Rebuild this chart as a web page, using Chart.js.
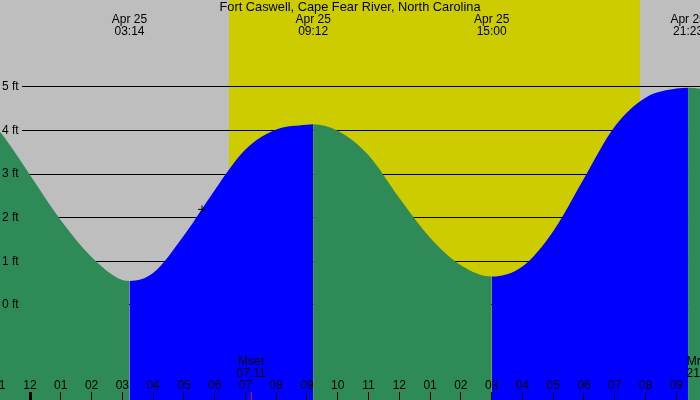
<!DOCTYPE html>
<html>
<head>
<meta charset="utf-8">
<script src="https://cdn.jsdelivr.net/npm/chart.js@4/dist/chart.umd.min.js"></script>
<style>
  html, body { margin: 0; padding: 0; background: #bebebe; }
  canvas { display: block; }
</style>
</head>
<body>
<canvas id="tide-chart" width="700" height="400"></canvas>
<script>
var title = 'Fort Caswell, Cape Fear River, North Carolina';

// predicted water level, hours from midnight Apr 25 / feet
var hours   = [-2, -1, 0, 1, 2, 3, 3.233, 4, 5, 6, 7, 8, 9, 9.2, 10, 11, 12, 13, 14, 15, 16, 17, 18, 19, 20, 21, 21.383, 22];
var heights = [4.70, 3.98, 2.97, 1.93, 1.09, 0.56, 0.54, 0.72, 1.58, 2.62, 3.55, 4.01, 4.12, 4.13, 3.98, 3.42, 2.44, 1.53, 0.90, 0.64, 0.87, 1.68, 2.89, 4.08, 4.74, 4.95, 4.97, 4.92];

// high / low tides
var extremeHours = [3.233, 9.2, 15.0, 21.383];
var extremeDates = ['Apr 25', 'Apr 25', 'Apr 25', 'Apr 25'];
var extremeTimes = ['03:14', '09:12', '15:00', '21:23'];

// sun and moon
var sunrise = 6.465;
var sunset = 19.82;
var moonHours = [7.183, 21.82];
var moonNames = ['Mset', 'Mrise'];
var moonTimes = ['07:11', '21:49'];

// current time marker
var nowHour = [5.59];
var nowHeight = [2.18];

// axes
var tickHours  = [-1, 0, 1, 2, 3, 4, 5, 6, 7, 8, 9, 10, 11, 12, 13, 14, 15, 16, 17, 18, 19, 20, 21];
var tickLabels = ['11', '12', '01', '02', '03', '04', '05', '06', '07', '08', '09', '10', '11', '12', '01', '02', '03', '04', '05', '06', '07', '08', '09'];
var feetLevels = [0, 1, 2, 3, 4, 5];

var FONT = '12px "Liberation Sans", Arial, sans-serif';
var TITLE_FONT = '12.8px "Liberation Sans", Arial, sans-serif';
var falling = '#2e8b57';
var rising = '#0000ff';

var tidePaint = {
  id: 'tidePaint',
  beforeDraw: function(chart) {
    var c = chart.ctx, x = chart.scales.x;
    c.save();
    c.fillStyle = '#bebebe';
    c.fillRect(0, 0, chart.width, chart.height);
    var x0 = x.getPixelForValue(sunrise), x1 = x.getPixelForValue(sunset);
    c.fillStyle = '#cccc00';
    c.fillRect(x0, 0, x1 - x0, chart.height);
    c.restore();
  },
  beforeDatasetsDraw: function(chart) {
    var c = chart.ctx, y = chart.scales.y;
    c.save();
    c.strokeStyle = '#000';
    c.lineWidth = 1;
    feetLevels.forEach(function(f) {
      var py = Math.round(y.getPixelForValue(f)) + 0.5;
      c.beginPath();
      c.moveTo(22, py);
      c.lineTo(chart.width, py);
      c.stroke();
    });
    c.restore();
  },
  afterDatasetsDraw: function(chart) {
    var c = chart.ctx, x = chart.scales.x, y = chart.scales.y;
    var h = chart.height;
    c.save();
    c.font = FONT;
    c.fillStyle = '#000';
    c.textBaseline = 'middle';

    // feet labels
    c.textAlign = 'left';
    feetLevels.forEach(function(f) {
      c.fillText(f + ' ft', 2, y.getPixelForValue(f) + 0.5);
    });

    // hour ticks
    c.textAlign = 'center';
    tickHours.forEach(function(t, i) {
      var px = x.getPixelForValue(t);
      c.fillText(tickLabels[i], px, 386);
      if (t % 24 === 0) {
        c.fillRect(Math.floor(px) - 1, 392, 3, h - 392);
      } else {
        c.fillRect(Math.floor(px), 392, 1, h - 392);
      }
    });

    // moon
    moonHours.forEach(function(t, i) {
      var px = x.getPixelForValue(t);
      c.fillStyle = '#ff0000';
      c.fillRect(Math.floor(px), 392, 1, h - 392);
      c.fillStyle = '#000';
      c.fillText(moonNames[i], px, 362);
      c.fillText(moonTimes[i], px, 373.5);
    });

    // high / low labels
    extremeHours.forEach(function(t, i) {
      var px = x.getPixelForValue(t);
      c.fillText(extremeDates[i], px, 20);
      c.fillText(extremeTimes[i], px, 31.5);
    });

    c.font = TITLE_FONT;
    c.fillText(title, 350, 7.5);
    c.restore();
  }
};

(function() {
  var ctx = document.getElementById('tide-chart');
  var tidePoints = hours.map(function(t, i) { return { x: t, y: heights[i] }; });
  var nowPoints = nowHour.map(function(t, i) { return { x: t, y: nowHeight[i] }; });

  var tideChart = new Chart(ctx, {
    type: 'line',
    data: {
      datasets: [
        {
          type: 'scatter',
          label: 'now',
          data: nowPoints,
          order: 0,
          showLine: false,
          pointStyle: 'cross',
          pointRadius: 4,
          borderColor: '#000',
          borderWidth: 1
        },
        {
          label: 'tide',
          data: tidePoints,
          order: 1,
          fill: 'start',
          backgroundColor: falling,
          borderColor: 'transparent',
          borderWidth: 0,
          pointRadius: 0,
          cubicInterpolationMode: 'monotone',
          segment: {
            backgroundColor: function(s) {
              return s.p1.parsed.y < s.p0.parsed.y ? falling : rising;
            }
          }
        }
      ]
    },
    options: {
      responsive: false,
      animation: false,
      layout: { padding: 0, autoPadding: false },
      plugins: {
        legend: { display: false },
        tooltip: { enabled: false }
      },
      scales: {
        x: { type: 'linear', min: -0.975, max: 21.77, display: false },
        y: { type: 'linear', min: -2.19, max: 6.98, display: false }
      }
    },
    plugins: [tidePaint]
  });
})();
</script>
</body>
</html>
